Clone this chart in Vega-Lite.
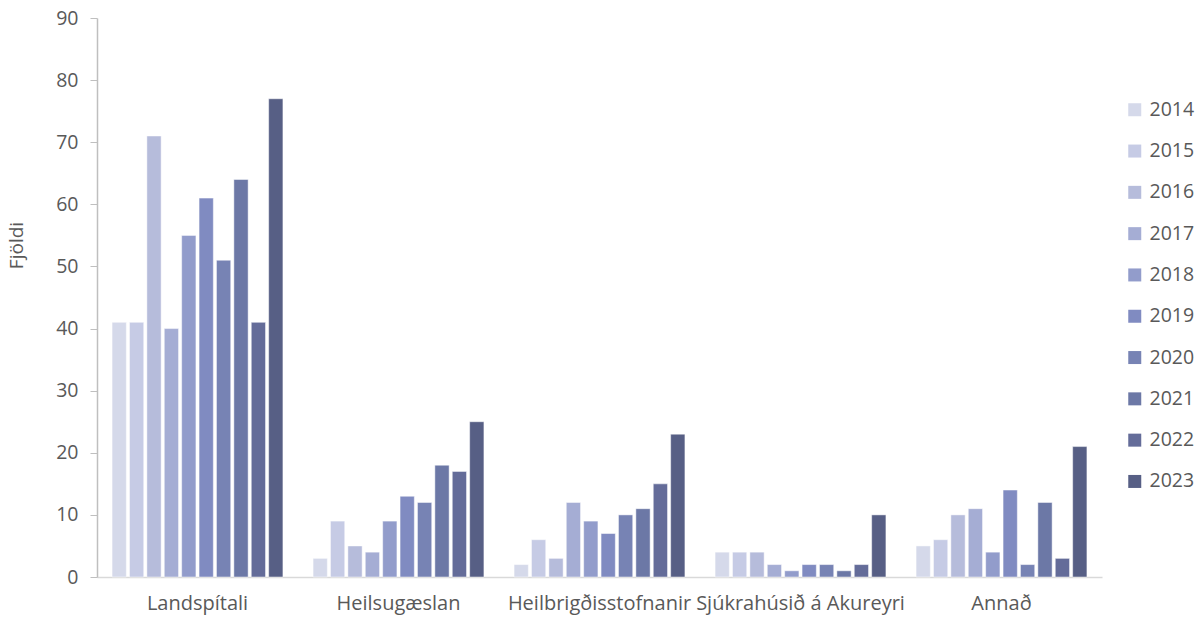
{
  "$schema": "https://vega.github.io/schema/vega-lite/v6.json",
  "width": 1005,
  "height": 559,
  "autosize": {"type": "none"},
  "padding": {"left": 97, "top": 18, "right": 102, "bottom": 42},
  "background": "white",
  "config": {
    "view": {"stroke": null},
    "font": "Open Sans",
    "axis": {"labelFont": "Open Sans", "titleFont": "Open Sans", "labelColor": "#595959", "titleColor": "#595959", "grid": false},
    "legend": {"labelFont": "Open Sans"}
  },
  "data": {
    "values": [
      {"kategori": "Landspítali", "ar": "2014", "fjoldi": 41},
      {"kategori": "Landspítali", "ar": "2015", "fjoldi": 41},
      {"kategori": "Landspítali", "ar": "2016", "fjoldi": 71},
      {"kategori": "Landspítali", "ar": "2017", "fjoldi": 40},
      {"kategori": "Landspítali", "ar": "2018", "fjoldi": 55},
      {"kategori": "Landspítali", "ar": "2019", "fjoldi": 61},
      {"kategori": "Landspítali", "ar": "2020", "fjoldi": 51},
      {"kategori": "Landspítali", "ar": "2021", "fjoldi": 64},
      {"kategori": "Landspítali", "ar": "2022", "fjoldi": 41},
      {"kategori": "Landspítali", "ar": "2023", "fjoldi": 77},
      {"kategori": "Heilsugæslan", "ar": "2014", "fjoldi": 3},
      {"kategori": "Heilsugæslan", "ar": "2015", "fjoldi": 9},
      {"kategori": "Heilsugæslan", "ar": "2016", "fjoldi": 5},
      {"kategori": "Heilsugæslan", "ar": "2017", "fjoldi": 4},
      {"kategori": "Heilsugæslan", "ar": "2018", "fjoldi": 9},
      {"kategori": "Heilsugæslan", "ar": "2019", "fjoldi": 13},
      {"kategori": "Heilsugæslan", "ar": "2020", "fjoldi": 12},
      {"kategori": "Heilsugæslan", "ar": "2021", "fjoldi": 18},
      {"kategori": "Heilsugæslan", "ar": "2022", "fjoldi": 17},
      {"kategori": "Heilsugæslan", "ar": "2023", "fjoldi": 25},
      {"kategori": "Heilbrigðisstofnanir", "ar": "2014", "fjoldi": 2},
      {"kategori": "Heilbrigðisstofnanir", "ar": "2015", "fjoldi": 6},
      {"kategori": "Heilbrigðisstofnanir", "ar": "2016", "fjoldi": 3},
      {"kategori": "Heilbrigðisstofnanir", "ar": "2017", "fjoldi": 12},
      {"kategori": "Heilbrigðisstofnanir", "ar": "2018", "fjoldi": 9},
      {"kategori": "Heilbrigðisstofnanir", "ar": "2019", "fjoldi": 7},
      {"kategori": "Heilbrigðisstofnanir", "ar": "2020", "fjoldi": 10},
      {"kategori": "Heilbrigðisstofnanir", "ar": "2021", "fjoldi": 11},
      {"kategori": "Heilbrigðisstofnanir", "ar": "2022", "fjoldi": 15},
      {"kategori": "Heilbrigðisstofnanir", "ar": "2023", "fjoldi": 23},
      {"kategori": "Sjúkrahúsið á Akureyri", "ar": "2014", "fjoldi": 4},
      {"kategori": "Sjúkrahúsið á Akureyri", "ar": "2015", "fjoldi": 4},
      {"kategori": "Sjúkrahúsið á Akureyri", "ar": "2016", "fjoldi": 4},
      {"kategori": "Sjúkrahúsið á Akureyri", "ar": "2017", "fjoldi": 2},
      {"kategori": "Sjúkrahúsið á Akureyri", "ar": "2018", "fjoldi": 1},
      {"kategori": "Sjúkrahúsið á Akureyri", "ar": "2019", "fjoldi": 2},
      {"kategori": "Sjúkrahúsið á Akureyri", "ar": "2020", "fjoldi": 2},
      {"kategori": "Sjúkrahúsið á Akureyri", "ar": "2021", "fjoldi": 1},
      {"kategori": "Sjúkrahúsið á Akureyri", "ar": "2022", "fjoldi": 2},
      {"kategori": "Sjúkrahúsið á Akureyri", "ar": "2023", "fjoldi": 10},
      {"kategori": "Annað", "ar": "2014", "fjoldi": 5},
      {"kategori": "Annað", "ar": "2015", "fjoldi": 6},
      {"kategori": "Annað", "ar": "2016", "fjoldi": 10},
      {"kategori": "Annað", "ar": "2017", "fjoldi": 11},
      {"kategori": "Annað", "ar": "2018", "fjoldi": 4},
      {"kategori": "Annað", "ar": "2019", "fjoldi": 14},
      {"kategori": "Annað", "ar": "2020", "fjoldi": 2},
      {"kategori": "Annað", "ar": "2021", "fjoldi": 12},
      {"kategori": "Annað", "ar": "2022", "fjoldi": 3},
      {"kategori": "Annað", "ar": "2023", "fjoldi": 21}
    ]
  },
  "mark": {"type": "bar", "stroke": "#ffffff", "strokeWidth": 0.8, "strokeOpacity": 0.6},
  "encoding": {
    "x": {
      "field": "kategori",
      "type": "nominal",
      "sort": ["Landspítali", "Heilsugæslan", "Heilbrigðisstofnanir", "Sjúkrahúsið á Akureyri", "Annað"],
      "scale": {"paddingInner": 0.15, "paddingOuter": 0.075},
      "axis": {"title": null, "labelAngle": 0, "labelFontSize": 20, "labelLimit": 0, "labelOverlap": false, "ticks": false, "labelPadding": 16, "domainColor": "#D9D9D9", "domainWidth": 1.5}
    },
    "xOffset": {
      "field": "ar",
      "type": "nominal",
      "scale": {"paddingInner": 0.18, "paddingOuter": 0}
    },
    "y": {
      "field": "fjoldi",
      "type": "quantitative",
      "scale": {"domain": [0, 90], "nice": false},
      "axis": {"title": "Fjöldi", "values": [0, 10, 20, 30, 40, 50, 60, 70, 80, 90], "labelFontSize": 19.5, "titleFontSize": 19, "titleFontWeight": "normal", "tickSize": 7, "tickColor": "#BFBFBF", "domainColor": "#BFBFBF", "domainWidth": 1.5, "labelPadding": 12, "titleX": -71, "titleY": 227, "titleAngle": -90, "titleBaseline": "bottom"}
    },
    "color": {
      "field": "ar",
      "type": "nominal",
      "scale": {
        "domain": ["2014", "2015", "2016", "2017", "2018", "2019", "2020", "2021", "2022", "2023"],
        "range": ["#D5D9EA", "#C6CBE5", "#B6BCDB", "#A5ADD4", "#929CCB", "#808BC1", "#7783B4", "#6C78A6", "#646C99", "#575F85"]
      },
      "legend": {
        "title": null,
        "orient": "none",
        "legendX": 1028,
        "legendY": 82,
        "symbolType": "square",
        "symbolSize": 169,
        "symbolStrokeWidth": 0,
        "labelFontSize": 19.5,
        "labelColor": "#595959",
        "labelOffset": 5,
        "rowPadding": 20.3
      }
    }
  }
}
